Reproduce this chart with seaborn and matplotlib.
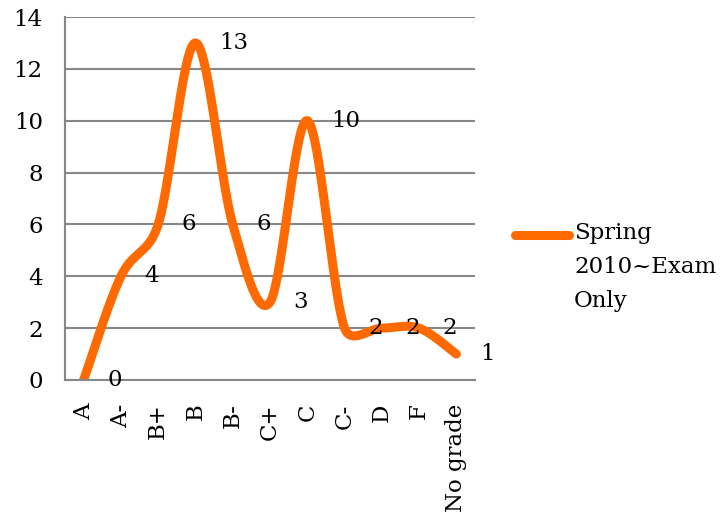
import numpy as np
import matplotlib
matplotlib.use('Agg')
import matplotlib.pyplot as plt
from matplotlib.lines import Line2D
import seaborn as sns

grades = ['A', 'A-', 'B+', 'B', 'B-', 'C+', 'C', 'C-', 'D', 'F', 'No grade']
counts = [0, 4, 6, 13, 6, 3, 10, 2, 2, 2, 1]
series_name = 'Spring\n2010~Exam\nOnly'
y_ticks = [0, 2, 4, 6, 8, 10, 12, 14]

ORANGE = '#FF6A00'
GRAY = '#878787'
FS = 16.5

sns.set_theme(style='white')
plt.rcParams['font.family'] = ['DejaVu Serif']
plt.rcParams['font.size'] = FS
plt.rcParams['text.color'] = 'black'
plt.rcParams['xtick.color'] = 'black'
plt.rcParams['ytick.color'] = 'black'

fig = plt.figure(figsize=(7.2, 5.18), dpi=100)
ax = fig.add_axes([65 / 720, 1 - 380 / 518, 410 / 720, 363 / 518])
xs = np.arange(len(grades))
ax.set_xlim(-0.5, len(grades) - 0.5)
ax.set_ylim(0, 14)


def excel_smooth(xv, yv, n=40):
    # excel style smoothing: bezier with catmull-rom arms in screen space,
    # each arm capped at half of the segment length
    pts = ax.transData.transform(np.column_stack([xv, yv]))
    m = len(pts)
    f = 1 / 6
    out = []
    for i in range(m - 1):
        p0 = pts[max(i - 1, 0)]
        p1, p2 = pts[i], pts[i + 1]
        p3 = pts[min(i + 2, m - 1)]
        half = np.hypot(*(p2 - p1)) / 2
        a1 = (p2 - p0) * f
        a2 = (p3 - p1) * f
        if np.hypot(*a1) > half:
            a1 = a1 * half / np.hypot(*a1)
        if np.hypot(*a2) > half:
            a2 = a2 * half / np.hypot(*a2)
        c1, c2 = p1 + a1, p2 - a2
        t = np.linspace(0, 1, n)[:, None]
        seg = ((1 - t) ** 3 * p1 + 3 * (1 - t) ** 2 * t * c1
               + 3 * (1 - t) * t ** 2 * c2 + t ** 3 * p2)
        out.append(seg if i == 0 else seg[1:])
    return ax.transData.inverted().transform(np.vstack(out))


curve = excel_smooth(xs, counts)
sns.lineplot(x=curve[:, 0], y=curve[:, 1], sort=False, estimator=None,
             color=ORANGE, lw=6.5, ax=ax, solid_capstyle='round')

# data labels to the right of each point
for xi, v in zip(xs, counts):
    ax.annotate(str(v), (xi, v), xytext=(17, 0), textcoords='offset points',
                ha='left', va='center', fontsize=FS)

# category axis: ticks between categories, labels at centres
ax.set_xticks(np.arange(-0.5, len(grades), 1))
ax.set_xticks(xs, grades, minor=True, rotation=90)
ax.tick_params(axis='x', which='major', length=6, width=1.5, color=GRAY,
               labelbottom=False)
ax.tick_params(axis='x', which='minor', length=0, pad=17, labelsize=FS)
ax.set_yticks(y_ticks)
ax.tick_params(axis='y', length=6, width=1.5, color=GRAY, pad=10,
               labelsize=FS)

ax.grid(axis='y', color=GRAY, lw=1.5)
ax.set_axisbelow(True)
for s in ['top', 'right']:
    ax.spines[s].set_visible(False)
for s in ['left', 'bottom']:
    ax.spines[s].set_color(GRAY)
    ax.spines[s].set_linewidth(1.5)

# legend drawn by hand, handle level with the first text line
fig.add_artist(Line2D([515 / 720, 569 / 720], [1 - 235 / 518] * 2,
                      transform=fig.transFigure, color=ORANGE, lw=6.5,
                      solid_capstyle='round'))
fig.text(574 / 720, 1 - 222 / 518, series_name, ha='left', va='top',
         fontsize=FS, linespacing=1.7)

fig.savefig('out.png', dpi=100)
